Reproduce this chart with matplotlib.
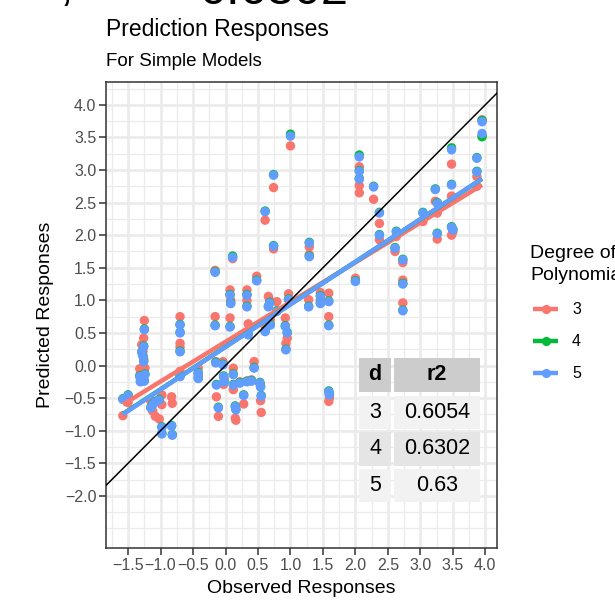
import numpy as np
import matplotlib
matplotlib.use("Agg")
import matplotlib.pyplot as plt
from matplotlib.lines import Line2D
from matplotlib.patches import Rectangle
from matplotlib.ticker import FixedLocator

plt.rcParams['font.family'] = ['Liberation Sans', 'DejaVu Sans']

# -------------------------------
# data
# -------------------------------
observed = [-1.58, -1.50, -1.32, -1.31, -1.29, -1.26, -1.25, -1.27, -1.26, -1.24,
            -1.25, -1.15, -1.12, -1.08, -1.02, -0.98, -0.98, -0.83, -0.82, -0.70,
            -0.70, -0.70, -0.70, -0.42, -0.42, -0.16, -0.16, -0.15, -0.14, -0.11,
            0.11, 0.07, 0.08, 0.07, -0.04, -0.03, -0.02, 0.12, 0.12, 0.15,
            0.16, 0.28, 0.22, 0.33, 0.40, 0.44, 0.53, 0.54, 0.55, 0.33,
            0.33, 0.48, 0.35, 0.61, 0.74, 0.74, 0.66, 0.68, 0.79, 0.69,
            0.61, 0.92, 0.95, 0.93, 0.97, 1.00, 1.29, 1.29, 1.28, 1.46,
            1.46, 1.59, 1.59, 1.59, 1.60, 2.00, 2.06, 2.06, 2.06, 2.28,
            2.37, 2.37, 2.63, 2.61, 2.73, 2.73, 2.73, 3.04, 3.23, 3.26,
            3.26, 3.48, 3.48, 3.48, 3.50, 3.95, 3.95, 3.87, 3.87]

pred_d3 = [-0.77, -0.57, -0.05, -0.12, 0.32, 0.42, 0.69, 0.22, 0.10, -0.04,
           -0.10, -0.55, -0.70, -0.78, -0.82, -0.45, -0.60, -0.48, -0.58, 0.75,
           0.34, 0.28, -0.09, -0.04, -0.15, 1.46, 0.75, 0.06, -0.48, -0.78,
           1.64, 1.16, 1.00, 0.73, 0.06, -0.29, -0.20, -0.04, -0.37, -0.81,
           -0.84, -0.59, -0.25, -0.24, -0.22, 0.06, -0.28, -0.54, -0.72, 1.16,
           1.00, 1.37, 0.64, 2.23, 2.73, 1.79, 1.06, 1.00, 0.98, 0.70,
           0.60, 0.73, 0.42, 0.34, 1.10, 3.37, 1.82, 1.70, 1.01, 1.12,
           1.00, 1.11, 0.75, -0.55, -0.50, 1.34, 3.05, 2.76, 2.65, 2.55,
           2.18, 1.93, 1.98, 1.75, 1.58, 1.31, 0.96, 2.21, 2.52, 2.34,
           1.94, 3.09, 2.60, 2.00, 2.05, 3.77, 3.52, 2.75, 2.90]

pred_d4 = [-0.51, -0.45, -0.16, -0.24, 0.21, 0.30, 0.56, 0.15, 0.07, -0.13,
           -0.23, -0.64, -0.59, -0.55, -0.52, -0.94, -1.04, -0.92, -1.06, 0.63,
           0.51, 0.22, -0.16, -0.11, -0.19, 1.44, 0.62, 0.05, -0.29, -0.64,
           1.68, 1.09, 0.96, 0.60, 0.02, -0.16, -0.24, -0.13, -0.29, -0.62,
           -0.67, -0.45, -0.26, -0.24, -0.23, -0.03, -0.26, -0.32, -0.46, 1.09,
           0.91, 1.31, 0.48, 2.37, 2.93, 1.84, 0.91, 0.97, 0.84, 0.63,
           0.53, 0.61, 0.51, 0.25, 1.02, 3.55, 1.89, 1.68, 0.91, 1.07,
           0.96, 0.99, 0.62, -0.39, -0.44, 1.30, 3.23, 2.99, 2.87, 2.75,
           2.35, 2.01, 2.06, 1.81, 1.63, 1.26, 0.85, 2.35, 2.71, 2.50,
           2.03, 3.34, 2.78, 2.13, 2.09, 3.76, 3.51, 3.19, 2.98]

pred_d5 = [-0.52, -0.46, -0.17, -0.25, 0.20, 0.29, 0.55, 0.14, 0.06, -0.14,
           -0.24, -0.65, -0.60, -0.56, -0.53, -0.95, -1.05, -0.93, -1.07, 0.62,
           0.50, 0.21, -0.17, -0.12, -0.20, 1.43, 0.61, 0.04, -0.30, -0.65,
           1.66, 1.08, 0.95, 0.59, 0.01, -0.17, -0.25, -0.14, -0.30, -0.63,
           -0.68, -0.46, -0.27, -0.25, -0.24, -0.04, -0.27, -0.33, -0.47, 1.08,
           0.90, 1.30, 0.47, 2.36, 2.92, 1.83, 0.90, 0.96, 0.83, 0.62,
           0.52, 0.60, 0.50, 0.24, 1.01, 3.52, 1.88, 1.67, 0.90, 1.06,
           0.95, 0.98, 0.61, -0.40, -0.45, 1.29, 3.20, 2.98, 2.86, 2.74,
           2.34, 2.00, 2.05, 1.80, 1.62, 1.25, 0.84, 2.34, 2.70, 2.49,
           2.02, 3.31, 2.77, 2.12, 2.08, 3.74, 3.56, 3.18, 2.97]

degrees = ["3", "4", "5"]
deg_colors = ["#F8766D", "#00BA38", "#619CFF"]

# lm fit lines (intercept, slope)
fit_intercept = [0.364, 0.288, 0.284]
fit_slope = [0.609, 0.652, 0.654]

table_d = ["3", "4", "5"]
table_r2 = ["0.6054", "0.6302", "0.63"]

# -------------------------------
# figure
# -------------------------------
W, H = 615, 602


def fx(px):
    return px / W


def fy(py):
    return 1 - py / H


fig = plt.figure(figsize=(W / 100, H / 100), dpi=100)
ax = fig.add_axes([fx(106), fy(548), (497 - 106) / W, (548 - 82) / H])

ax.set_xlim(-1.84, 4.18)
ax.set_ylim(-2.80, 4.35)

ax.xaxis.set_major_locator(FixedLocator(np.arange(-1.5, 4.01, 0.5)))
ax.yaxis.set_major_locator(FixedLocator(np.arange(-2.0, 4.01, 0.5)))
ax.xaxis.set_minor_locator(FixedLocator(np.arange(-1.75, 4.0, 0.5)))
ax.yaxis.set_minor_locator(FixedLocator([-2.5] + list(np.arange(-2.25, 4.3, 0.5))))
ax.xaxis.set_major_formatter(plt.FuncFormatter(lambda v, p: f"{v:.1f}".replace("-", "\u2212")))
ax.yaxis.set_major_formatter(plt.FuncFormatter(lambda v, p: f"{v:.1f}".replace("-", "\u2212")))

ax.set_axisbelow(True)
ax.grid(which="major", color="#EBEBEB", lw=1.9)
ax.grid(which="minor", color="#EBEBEB", lw=0.9)

ax.tick_params(which="major", length=5, width=1.1, color="#333333",
               labelsize=11.5, labelcolor="#4D4D4D", pad=2)
ax.tick_params(which="minor", length=0)
for s in ax.spines.values():
    s.set_color("#333333")
    s.set_linewidth(1.1)

preds = [pred_d3, pred_d4, pred_d5]
for i in range(3):
    ax.scatter(observed, preds[i], s=46, color=deg_colors[i],
               edgecolors="none", zorder=3)

xs = np.array([min(observed), max(observed)])
for i in range(3):
    ax.plot(xs, fit_intercept[i] + fit_slope[i] * xs, color=deg_colors[i],
            lw=3.2, zorder=4, solid_capstyle="butt")

ax.axline((0, 0), slope=1, color="black", lw=1.1, zorder=5)

# titles
fig.text(fx(106), fy(36), "Prediction Responses", fontsize=16.5, va="baseline")
fig.text(fx(106), fy(65.5), "For Simple Models", fontsize=13.5, va="baseline")
fig.text(fx(301.5), fy(593), "Observed Responses", fontsize=14, ha="center", va="baseline")
fig.text(fx(50), fy(315), "Predicted Responses", fontsize=14, ha="center", va="baseline",
         rotation=90, rotation_mode="anchor")

# clipped text at the very top
fig.text(fx(60), fy(0), ",", fontsize=35, va="baseline")
fig.text(fx(199), fy(4.5), "0.6302", fontsize=35, va="baseline")

# legend
fig.text(fx(530), fy(258), "Degree of", fontsize=14, va="baseline")
fig.text(fx(530), fy(280), "Polynomial", fontsize=14, va="baseline")
key_y = [309, 341, 373]
for i in range(3):
    fig.add_artist(Line2D([fx(533), fx(558)], [fy(key_y[i])] * 2, transform=fig.transFigure,
                          color=deg_colors[i], lw=3.2, solid_capstyle="butt"))
    fig.add_artist(Line2D([fx(545.5)], [fy(key_y[i])], transform=fig.transFigure,
                          color=deg_colors[i], marker="o", ms=6.6, mec="none", ls="none"))
    fig.text(fx(572), fy(key_y[i]), degrees[i], fontsize=11.5, va="center")

# r2 table
cols = [(359, 391), (394, 480)]
rows = [(358, 392), (396, 429), (432, 466), (469, 502)]
fills = ["#CCCCCC", "#F2F2F2", "#E5E5E5", "#F2F2F2"]
for r, (y0, y1) in enumerate(rows):
    for c, (x0, x1) in enumerate(cols):
        fig.add_artist(Rectangle((fx(x0), fy(y1)), (x1 - x0) / W, (y1 - y0) / H,
                                 transform=fig.transFigure, facecolor=fills[r],
                                 edgecolor="none", zorder=6))
    yc = fy((y0 + y1) / 2)
    if r == 0:
        left, right, weight = "d", "r2", "bold"
    else:
        left, right, weight = table_d[r - 1], table_r2[r - 1], "normal"
    fig.text(fx((cols[0][0] + cols[0][1]) / 2), yc, left, fontsize=15.5, fontweight=weight,
             ha="center", va="center", zorder=7)
    fig.text(fx((cols[1][0] + cols[1][1]) / 2), yc, right, fontsize=15.5, fontweight=weight,
             ha="center", va="center", zorder=7)

fig.savefig("out.png", dpi=100)
